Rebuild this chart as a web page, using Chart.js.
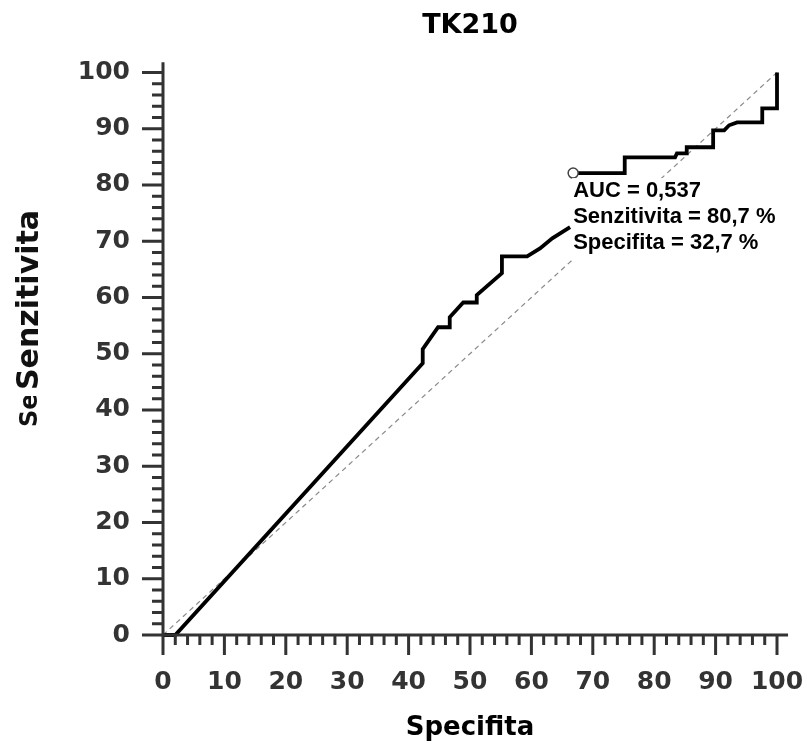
<!DOCTYPE html>
<html>
<head>
<meta charset="utf-8">
<title>TK210</title>
<script src="https://cdn.jsdelivr.net/npm/chart.js@4.4.1/dist/chart.umd.min.js"></script>
<style>
  body { margin: 0; background: #fff; }
  canvas { display: block; }
</style>
</head>
<body>
<canvas id="roc" width="807" height="744"></canvas>
<script>
// ROC curve (null = break behind the label box)
const specifita = [0, 2, 42.3, 42.3, 44.8, 46.7, 46.7, 48.9, 51.1, 51.1, 55.2, 55.2, 59.3, 61.4, 63.4, 66.3,
  66.5,
  66.8, 75.2, 75.2, 83.4, 83.7, 85.3, 85.3, 89.6, 89.6, 91.4, 92.2, 93.5, 97.6, 97.6, 100, 100]
const senzitivita = [0, 0, 48.3, 50.8, 54.7, 54.7, 56.5, 59.1, 59.1, 60.4, 64.3, 67.3, 67.3, 68.7, 70.5, 72.5,
  null,
  82.1, 82.1, 84.9, 84.9, 85.6, 85.6, 86.7, 86.7, 89.7, 89.7, 90.6, 91.1, 91.1, 93.6, 93.6, 100]

const diagX = [0, 100]
const diagY = [0, 100]

// cut-off point
const cutX = [66.8]
const cutY = [82.1]

const tickStep = 10
const minorStep = 2
const infoLines = ['AUC = 0,537', 'Senzitivita = 80,7 %', 'Specifita = 32,7 %']

const toPoints = (xs, ys) => xs.map((v, i) => ({ x: v, y: ys[i] }))

const tickFont = { family: 'DejaVu Sans', weight: 'bold', size: 25 }

const rocDecor = {
  id: 'rocDecor',
  beforeDraw(chart) {
    const ctx = chart.ctx
    ctx.save()
    ctx.fillStyle = '#fff'
    ctx.fillRect(0, 0, chart.width, chart.height)
    ctx.restore()
  },
  afterDatasetsDraw(chart) {
    const { ctx, scales: { x, y } } = chart
    const x0 = x.getPixelForValue(0)
    const y0 = y.getPixelForValue(0)

    // text box with the result (white background hides curve + diagonal)
    const bx = x.getPixelForValue(cutX[0]) - 1
    const by = y.getPixelForValue(cutY[0]) + 5
    ctx.save()
    ctx.fillStyle = '#fff'
    ctx.fillRect(bx, by, 225, 84)
    ctx.fillStyle = '#000'
    ctx.font = 'bold 22px "Liberation Sans", Arial, sans-serif'
    ctx.textAlign = 'left'
    ctx.textBaseline = 'alphabetic'
    infoLines.forEach((t, i) => ctx.fillText(t, bx + 1, by + 19 + i * 26))
    ctx.restore()

    // axes
    ctx.save()
    ctx.strokeStyle = '#333'
    ctx.lineWidth = 3
    ctx.beginPath()
    ctx.moveTo(x0, y0)
    ctx.lineTo(x.getPixelForValue(101.8), y0)
    ctx.moveTo(x0, y0)
    ctx.lineTo(x0, y.getPixelForValue(101.8))
    for (let v = 0; v <= 100; v += minorStep) {
      const major = v % tickStep === 0
      const px = x.getPixelForValue(v)
      const py = y.getPixelForValue(v)
      ctx.moveTo(px, y0)
      ctx.lineTo(px, y0 + (major ? 20 : 10))
      ctx.moveTo(x0, py)
      ctx.lineTo(x0 - (major ? 21 : 11), py)
    }
    ctx.stroke()
    ctx.restore()

    // y axis title, plus the clipped leftover "Se"
    ctx.save()
    ctx.fillStyle = '#111'
    ctx.font = 'bold 30px "DejaVu Sans"'
    ctx.translate(38, 300)
    ctx.rotate(-Math.PI / 2)
    ctx.textAlign = 'center'
    ctx.fillText('Senzitivita', 0, 0)
    ctx.restore()

    ctx.save()
    ctx.beginPath()
    ctx.rect(0, 396, 60, 50)
    ctx.clip()
    ctx.fillStyle = '#111'
    ctx.font = 'bold 24px "DejaVu Sans"'
    ctx.translate(37, 427)
    ctx.rotate(-Math.PI / 2)
    ctx.textAlign = 'left'
    ctx.fillText('Senzitivita', 0, 0)
    ctx.restore()
  }
}

new Chart(document.getElementById('roc'), {
  type: 'scatter',
  data: {
    datasets: [
      {
        data: toPoints(cutX, cutY),
        pointRadius: 5,
        pointBackgroundColor: '#fff',
        pointBorderColor: '#444',
        pointBorderWidth: 1.5,
        showLine: false,
        order: 0
      },
      {
        data: toPoints(specifita, senzitivita),
        showLine: true,
        spanGaps: false,
        borderColor: '#000',
        borderWidth: 3.8,
        pointRadius: 0,
        tension: 0,
        clip: false,
        order: 1
      },
      {
        data: toPoints(diagX, diagY),
        showLine: true,
        borderColor: '#8a8a8a',
        borderWidth: 1.2,
        borderDash: [5, 4],
        pointRadius: 0,
        clip: false,
        order: 2
      }
    ]
  },
  options: {
    responsive: false,
    animation: false,
    layout: { padding: { left: 0, right: 30, top: 0, bottom: 0 } },
    plugins: {
      legend: { display: false },
      tooltip: { enabled: false },
      title: {
        display: true,
        text: 'TK210',
        fullSize: false,
        color: '#000',
        font: { family: 'DejaVu Sans', weight: 'bold', size: 27 },
        padding: { top: 10, bottom: 30 }
      }
    },
    scales: {
      x: {
        type: 'linear',
        min: 0,
        max: 100,
        grid: { display: false, drawTicks: false },
        border: { display: false },
        ticks: { stepSize: tickStep, padding: 32, color: '#333', font: tickFont, maxRotation: 0, autoSkip: false },
        title: {
          display: true,
          text: 'Specifita',
          color: '#000',
          font: { family: 'DejaVu Sans', weight: 'bold', size: 26 },
          padding: { top: 0, bottom: 0 }
        },
        afterFit(s) {
          s.height = 109
          s.paddingLeft = 0
          s.paddingRight = 0
        }
      },
      y: {
        type: 'linear',
        min: 0,
        max: 100,
        grid: { display: false, drawTicks: false },
        border: { display: false },
        ticks: { stepSize: tickStep, padding: 33, color: '#333', font: tickFont },
        afterFit(s) {
          s.width = 163
          s.paddingTop = 0
          s.paddingBottom = 0
        }
      }
    }
  },
  plugins: [rocDecor]
})
</script>
</body>
</html>
